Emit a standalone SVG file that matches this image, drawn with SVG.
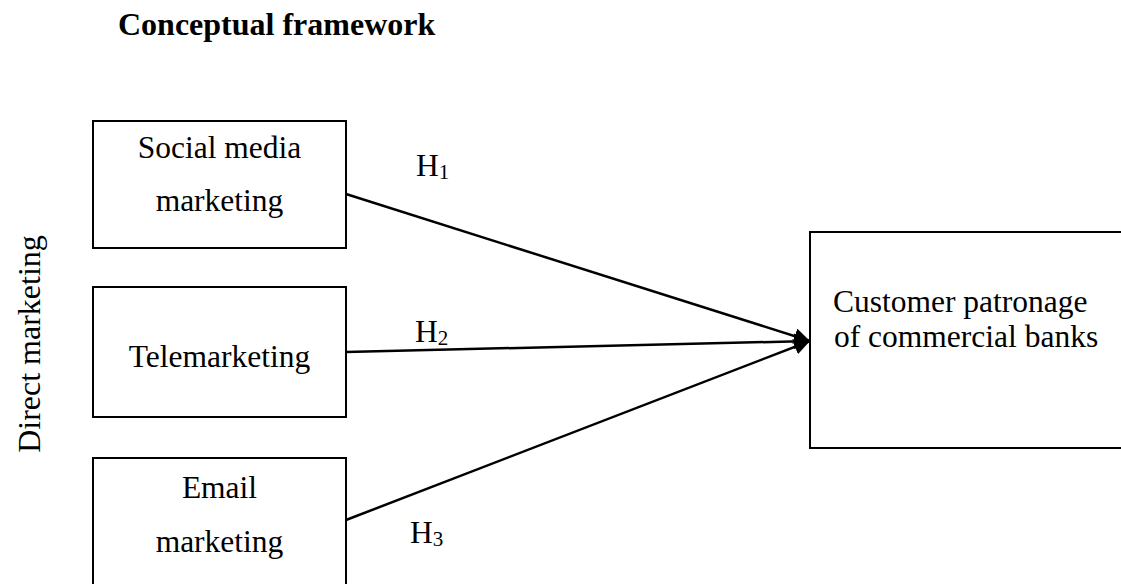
<svg xmlns="http://www.w3.org/2000/svg" width="1121" height="584" viewBox="0 0 1121 584">
<style>
.box{fill:#fff;stroke:#000;stroke-width:2}
.t{font-family:"Liberation Serif","Times New Roman",serif;font-size:31.5px;fill:#000}
.c{text-anchor:middle}
.sub{font-size:21px}
.edge{stroke:#000;stroke-width:2.5;fill:none;marker-end:url(#ah)}
</style>
<defs>
<marker id="ah" markerUnits="userSpaceOnUse" markerWidth="18" markerHeight="16" refX="16" refY="8" orient="auto">
<path d="M0,0 L16,8 L0,16 z" fill="#000"/>
</marker>
</defs>
<rect width="1121" height="584" fill="#fff"/>
<text class="t" x="118" y="35" font-weight="bold" style="font-size:32px">Conceptual framework</text>
<text class="t c" transform="translate(40,344) rotate(-90)" style="font-size:32px">Direct marketing</text>
<g id="connectors">
<line class="edge" x1="346" y1="194" x2="810" y2="341"/>
<line class="edge" x1="346" y1="352" x2="810" y2="341"/>
<line class="edge" x1="346" y1="520" x2="810" y2="341"/>
<text class="t" x="416" y="176">H<tspan class="sub" dy="3">1</tspan></text>
<text class="t" x="415" y="342">H<tspan class="sub" dy="3">2</tspan></text>
<text class="t" x="410" y="543">H<tspan class="sub" dy="3">3</tspan></text>
</g>
<g id="social">
<rect class="box" x="93" y="121" width="253" height="127"/>
<text class="t c" x="219.5" y="158">Social media</text>
<text class="t c" x="219.5" y="211">marketing</text>
</g>
<g id="tele">
<rect class="box" x="93" y="287" width="253" height="130"/>
<text class="t c" x="219.5" y="367">Telemarketing</text>
</g>
<g id="email">
<rect class="box" x="93" y="458" width="253" height="140"/>
<text class="t c" x="219.5" y="498">Email</text>
<text class="t c" x="219.5" y="552">marketing</text>
</g>
<g id="customer">
<rect class="box" x="810" y="232" width="320" height="216"/>
<text class="t" x="833" y="312">Customer patronage</text>
<text class="t" x="834" y="347">of commercial banks</text>
</g>
</svg>
